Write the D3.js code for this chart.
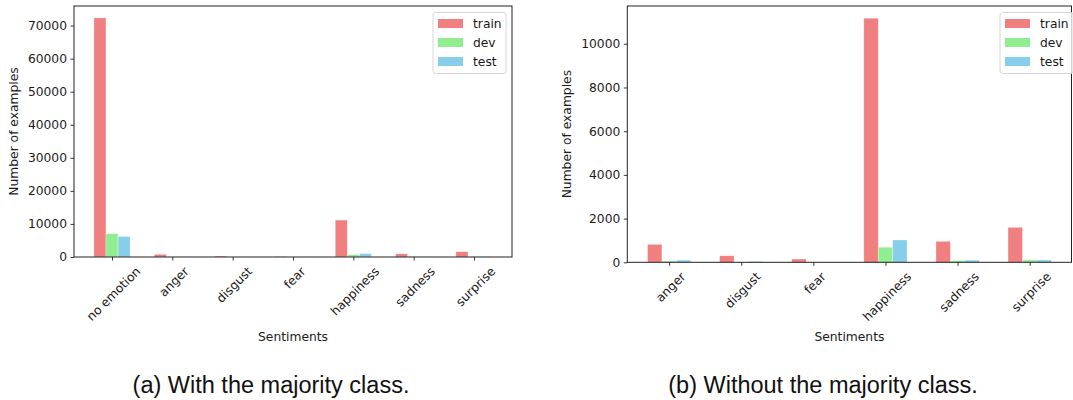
<!DOCTYPE html>
<html>
<head>
<meta charset="utf-8">
<script src="https://cdn.jsdelivr.net/npm/d3@7"></script>
<style>
	body { margin: 0; background: #fff; }
	svg { display: block; }
	.tick-label, .axis-label, .legend-text { font-family: 'DejaVu Sans', sans-serif; fill: #1a1a1a; }
	.caption { font-family: 'Liberation Sans', Arial, sans-serif; font-size: 23.5px; fill: #111; }
</style>
</head>
<body>
<div id="chart"></div>
<script>
// (a) with the majority class
const categoriesA = ['no emotion', 'anger', 'disgust', 'fear', 'happiness', 'sadness', 'surprise'];
const trainA = [72300, 820, 300, 150, 11170, 960, 1600];
const devA = [7050, 55, 10, 5, 690, 75, 110];
const testA = [6200, 100, 40, 10, 1020, 100, 105];
const yTicksA = [0, 10000, 20000, 30000, 40000, 50000, 60000, 70000];

// (b) without the majority class
const categoriesB = ['anger', 'disgust', 'fear', 'happiness', 'sadness', 'surprise'];
const trainB = [820, 300, 150, 11170, 960, 1600];
const devB = [55, 10, 5, 690, 75, 110];
const testB = [100, 40, 10, 1020, 100, 105];
const yTicksB = [0, 2000, 4000, 6000, 8000, 10000];

const seriesNames = ['train', 'dev', 'test'];
const seriesColors = ['#f08080', '#90ee90', '#87ceeb'];

const captions = ['(a) With the majority class.', '(b) Without the majority class.'];

const width = 1073;
const height = 400;
const fontSize = 12.3;
const barWidth = 0.2;

const svg = d3.select('#chart')
	.append('svg')
	.attr('width', width)
	.attr('height', height);

function drawPanel (cfg) {
	const n = cfg.categories.length;
	const series = [cfg.train, cfg.dev, cfg.test];

	// matplotlib style 5% margins around the bars
	const span = (n - 1) + 3 * barWidth;
	const xMin = -1.5 * barWidth - 0.05 * span;
	const xMax = (n - 1) + 1.5 * barWidth + 0.05 * span;

	const x = d3.scaleLinear()
		.domain([xMin, xMax])
		.range([cfg.left, cfg.right]);

	const yMax = d3.max(series, (s) => d3.max(s)) * 1.05;
	const y = d3.scaleLinear()
		.domain([0, yMax])
		.range([cfg.bottom, cfg.top]);

	const g = svg.append('g');

	// bars
	series.forEach((values, si) => {
		g.selectAll('.bar-' + si)
			.data(values)
			.enter()
			.append('rect')
			.attr('class', 'bar-' + si)
			.attr('x', (d, i) => x(i + (si - 1) * barWidth - barWidth / 2))
			.attr('width', x(barWidth) - x(0))
			.attr('y', (d) => y(d))
			.attr('height', (d) => y(0) - y(d))
			.attr('fill', seriesColors[si])
			.attr('stroke', '#fff')
			.attr('stroke-opacity', 0.5)
			.attr('stroke-width', 0.6);
	});

	// y axis
	const yAxis = g.append('g')
		.attr('transform', `translate(${cfg.left},0)`)
		.call(
			d3.axisLeft(y)
				.tickValues(cfg.yTicks)
				.tickSize(3.5)
				.tickPadding(3.5)
				.tickFormat(d3.format('d'))
		);
	yAxis.select('.domain').remove();
	yAxis.selectAll('.tick line').attr('stroke', '#222').attr('stroke-width', 0.9);
	yAxis.selectAll('.tick text')
		.attr('class', 'tick-label')
		.attr('font-size', fontSize)
		.attr('font-family', 'DejaVu Sans');

	// x axis ticks
	const xAxis = g.append('g')
		.attr('transform', `translate(0,${cfg.bottom})`)
		.call(
			d3.axisBottom(x)
				.tickValues(d3.range(n))
				.tickSize(3.5)
				.tickFormat('')
		);
	xAxis.select('.domain').remove();
	xAxis.selectAll('.tick line').attr('stroke', '#222').attr('stroke-width', 0.9);

	// rotated category labels, centred under the tick like matplotlib
	cfg.categories.forEach((name, i) => {
		const lab = g.append('g');
		const t = lab.append('text')
			.attr('class', 'tick-label')
			.attr('font-size', fontSize)
			.attr('text-anchor', 'middle')
			.attr('dy', '0.35em')
			.text(name);
		const w = t.node().getComputedTextLength();
		const h = fontSize * 1.17;
		const cy = cfg.bottom + 7 + (w + h) / (2 * Math.SQRT2);
		lab.attr('transform', `translate(${x(i) + 1.5},${cy}) rotate(-45)`);
	});

	// frame
	g.append('rect')
		.attr('x', cfg.left)
		.attr('y', cfg.top)
		.attr('width', cfg.right - cfg.left)
		.attr('height', cfg.bottom - cfg.top)
		.attr('fill', 'none')
		.attr('stroke', '#222')
		.attr('stroke-width', 1);

	// axis titles
	g.append('text')
		.attr('class', 'axis-label')
		.attr('font-size', fontSize)
		.attr('text-anchor', 'middle')
		.attr('transform', `translate(${cfg.yLabelX},${(cfg.top + cfg.bottom) / 2}) rotate(-90)`)
		.text('Number of examples');

	g.append('text')
		.attr('class', 'axis-label')
		.attr('font-size', fontSize)
		.attr('text-anchor', 'middle')
		.attr('x', (cfg.left + cfg.right) / 2)
		.attr('y', 341)
		.text('Sentiments');

	// legend
	const leg = g.append('g')
		.attr('transform', `translate(${cfg.legendX},12.5)`);
	leg.append('rect')
		.attr('width', 73)
		.attr('height', 61)
		.attr('rx', 2.5)
		.attr('fill', '#fff')
		.attr('fill-opacity', 0.8)
		.attr('stroke', '#d6d6d6')
		.attr('stroke-width', 1);
	seriesNames.forEach((name, si) => {
		const row = leg.append('g')
			.attr('transform', `translate(0,${11 + si * 19})`);
		row.append('rect')
			.attr('x', 5)
			.attr('y', -4.5)
			.attr('width', 25)
			.attr('height', 9)
			.attr('fill', seriesColors[si]);
		row.append('text')
			.attr('class', 'legend-text')
			.attr('font-size', fontSize)
			.attr('x', 40)
			.attr('dy', '0.35em')
			.text(name);
	});

	// caption
	svg.append('text')
		.attr('class', 'caption')
		.attr('text-anchor', 'middle')
		.attr('x', cfg.captionX)
		.attr('y', 393)
		.text(cfg.caption);
}

drawPanel({
	categories: categoriesA,
	train: trainA,
	dev: devA,
	test: testA,
	yTicks: yTicksA,
	left: 74,
	right: 512,
	top: 6,
	bottom: 257,
	yLabelX: 18,
	legendX: 433,
	captionX: 271,
	caption: captions[0]
});

drawPanel({
	categories: categoriesB,
	train: trainB,
	dev: devB,
	test: testB,
	yTicks: yTicksB,
	left: 627.3,
	right: 1071.5,
	top: 6,
	bottom: 262.3,
	yLabelX: 571,
	legendX: 1000,
	captionX: 823,
	caption: captions[1]
});
</script>
</body>
</html>
